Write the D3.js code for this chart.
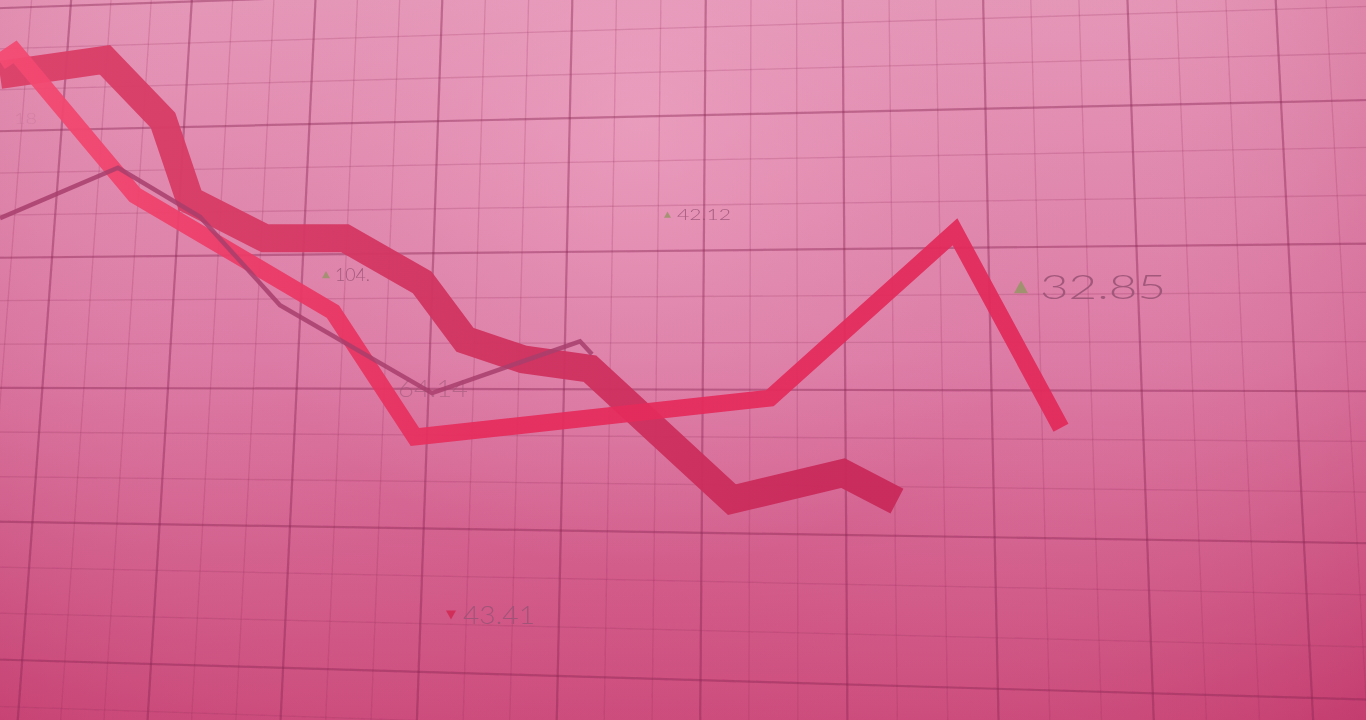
<!DOCTYPE html>
<html>
<head>
<meta charset="utf-8">
<script src="https://cdn.jsdelivr.net/npm/d3@7"></script>
<style>
html,body{margin:0;padding:0;background:#d87aa2;overflow:hidden;}
svg{display:block;}
</style>
</head>
<body>
<svg id="chart" width="1366" height="720"></svg>
<script>
// ---------- data ----------
// series A: thick ribbon
const timeA  = [0, 10.5, 16.3, 19.0, 26.5, 34.5, 42.2, 46.5, 52.3, 59.0, 73.2, 84.3, 89.7];
const valueA = [89.6, 91.7, 83.3, 72.2, 66.9, 66.9, 60.8, 52.8, 50.1, 48.8, 30.6, 34.3, 30.4];
// series B: bright ribbon
const timeB  = [0, 1.5, 13.5, 33.3, 41.5, 77.0, 95.5, 106.1];
const valueB = [91.4, 92.8, 72.9, 56.7, 39.3, 44.7, 67.8, 40.6];
// series C: thin line
const timeC  = [0, 11.8, 20.0, 28.0, 43.2, 58.0, 59.2];
const valueC = [69.7, 76.7, 69.9, 57.6, 45.4, 52.6, 50.8];
// floating value labels
const labelText  = ["42.12", "104.", "64.14", "43.41", "32.85", "18"];
const labelTime  = [66.4, 32.2, 39.8, 44.6, 101.4, 1.4];
const labelValue = [69.4, 61.0, 44.9, 13.3, 58.5, 82.8];
const labelDir   = ["up", "up", "none", "down", "up", "none"];

// ---------- styles (not data) ----------
const labelStyle = [
  {size:16, width:54, tri:7,  gap:6,  op:0.85},
  {size:17, width:35, tri:8,  gap:5,  op:0.85},
  {size:24, width:70, tri:0,  gap:0,  op:0.55},
  {size:26, width:72, tri:10, gap:7,  op:0.9},
  {size:33, width:126,tri:14, gap:12, op:0.9},
  {size:16, width:23, tri:0,  gap:0,  op:0.2}
];

const W = 1366, H = 720;
const svg = d3.select("#chart");
const defs = svg.append("defs");

// background gradients
const lg = defs.append("linearGradient").attr("id","bgv").attr("x1",0).attr("y1",0).attr("x2",0).attr("y2",1);
lg.append("stop").attr("offset","0%").attr("stop-color","#e597b8");
lg.append("stop").attr("offset","50%").attr("stop-color","#dc7ba5");
lg.append("stop").attr("offset","100%").attr("stop-color","#cb4677");
const rg = defs.append("radialGradient").attr("id","bgr")
  .attr("gradientUnits","userSpaceOnUse").attr("cx",640).attr("cy",120).attr("r",1000);
rg.append("stop").attr("offset","0%").attr("stop-color","#f0a8c6").attr("stop-opacity",0.55);
rg.append("stop").attr("offset","45%").attr("stop-color","#e090b2").attr("stop-opacity",0.0);
rg.append("stop").attr("offset","100%").attr("stop-color","#b8285c").attr("stop-opacity",0.55);

const blur = defs.append("filter").attr("id","soft").attr("x","-5%").attr("y","-5%").attr("width","110%").attr("height","110%");
blur.append("feGaussianBlur").attr("stdDeviation",0.7);

svg.append("rect").attr("width",W).attr("height",H).attr("fill","url(#bgv)");
svg.append("rect").attr("width",W).attr("height",H).attr("fill","url(#bgr)");

// ---------- perspective grid via homography ----------
function homography(src, dst){
  const A = [], b = [];
  for (let i=0;i<4;i++){
    const [u,v] = src[i], [x,y] = dst[i];
    A.push([u,v,1,0,0,0,-u*x,-v*x]); b.push(x);
    A.push([0,0,0,u,v,1,-u*y,-v*y]); b.push(y);
  }
  const n = 8;
  for (let c=0;c<n;c++){
    let p=c; for(let r=c+1;r<n;r++) if(Math.abs(A[r][c])>Math.abs(A[p][c])) p=r;
    [A[c],A[p]]=[A[p],A[c]]; [b[c],b[p]]=[b[p],b[c]];
    for(let r=0;r<n;r++){ if(r===c) continue; const f=A[r][c]/A[c][c];
      for(let k=c;k<n;k++) A[r][k]-=f*A[c][k]; b[r]-=f*b[c]; }
  }
  const h = b.map((bv,i)=>bv/A[i][i]);
  return (u,v)=>{ const w=h[6]*u+h[7]*v+1; return [(h[0]*u+h[1]*v+h[2])/w,(h[3]*u+h[4]*v+h[5])/w]; };
}
const proj = homography([[1,1],[9,1],[1,5],[9,5]], [[184,127],[1281,102],[151,664],[1312,698]]);

const gridG = svg.append("g").attr("filter","url(#soft)");
const sub = 3;
const gridLines = [];
for (let k=-2*sub; k<=12*sub; k++){
  const u = k/sub;
  gridLines.push({a:proj(u,-2), b:proj(u,8), major:k%sub===0});
}
for (let k=-2*sub; k<=8*sub; k++){
  const v = k/sub;
  gridLines.push({a:proj(-2,v), b:proj(12,v), major:k%sub===0});
}
gridG.selectAll("line").data(gridLines).join("line")
  .attr("x1",d=>d.a[0]).attr("y1",d=>d.a[1]).attr("x2",d=>d.b[0]).attr("y2",d=>d.b[1])
  .attr("stroke", d=>d.major ? "rgba(135,35,80,0.42)" : "rgba(145,45,90,0.22)")
  .attr("stroke-width", d=>d.major ? 2.2 : 1.3);

// ---------- scales ----------
const x = d3.scaleLinear().domain([0,136.6]).range([0,W]);
const y = d3.scaleLinear().domain([0,100]).range([H,0]);
const line = d3.line().x(d=>x(d[0])).y(d=>y(d[1]));

// ---------- labels ----------
const labels = labelText.map((t,i)=>({t, tx:labelTime[i], v:labelValue[i], dir:labelDir[i], s:labelStyle[i]}));
const lG = svg.append("g").selectAll("g").data(labels).join("g")
  .attr("transform", d=>`translate(${x(d.tx)},${y(d.v)})`)
  .attr("opacity", d=>d.s.op);
lG.filter(d=>d.dir!=="none").append("path")
  .attr("d", d=>{
    const w=d.s.tri, h=w*0.9, yc=-d.s.size*0.36;
    return d.dir==="up"
      ? `M0,${yc+h/2}L${w},${yc+h/2}L${w/2},${yc-h/2}Z`
      : `M0,${yc-h/2}L${w},${yc-h/2}L${w/2},${yc+h/2}Z`;
  })
  .attr("fill", d=>d.dir==="up" ? "#9a9468" : "#d22a55");
lG.append("text")
  .attr("x", d=>d.s.tri + d.s.gap)
  .attr("y", 0)
  .attr("font-family","Lato, 'DejaVu Sans', sans-serif")
  .attr("font-weight",300)
  .attr("font-size", d=>d.s.size)
  .attr("textLength", d=>d.s.width)
  .attr("lengthAdjust","spacingAndGlyphs")
  .attr("fill","#9c5476")
  .text(d=>d.t);

// ---------- series ----------
const gradB = defs.append("linearGradient").attr("id","gb").attr("gradientUnits","userSpaceOnUse")
  .attr("x1",0).attr("y1",0).attr("x2",W).attr("y2",0);
gradB.append("stop").attr("offset","0%").attr("stop-color","#f44a72");
gradB.append("stop").attr("offset","35%").attr("stop-color","#e52c5c");
gradB.append("stop").attr("offset","100%").attr("stop-color","#e0285a");

const gradA = defs.append("linearGradient").attr("id","ga").attr("gradientUnits","userSpaceOnUse")
  .attr("x1",0).attr("y1",0).attr("x2",W).attr("y2",0);
gradA.append("stop").attr("offset","0%").attr("stop-color","#dc4068");
gradA.append("stop").attr("offset","60%").attr("stop-color","#c92a5a");
gradA.append("stop").attr("offset","100%").attr("stop-color","#c6265a");

const dataA = timeA.map((t,i)=>[t,valueA[i]]);
const dataB = timeB.map((t,i)=>[t,valueB[i]]);
const dataC = timeC.map((t,i)=>[t,valueC[i]]);

svg.append("path").datum(dataA).attr("d",line)
  .attr("fill","none").attr("stroke","url(#ga)").attr("stroke-width",28)
  .attr("stroke-linejoin","miter").attr("stroke-miterlimit",3).attr("stroke-linecap","butt")
  .attr("opacity",0.95);
svg.append("path").datum(dataB).attr("d",line)
  .attr("fill","none").attr("stroke","url(#gb)").attr("stroke-width",17)
  .attr("stroke-linejoin","miter").attr("stroke-miterlimit",4).attr("stroke-linecap","butt")
  .attr("opacity",0.93);
svg.append("path").datum(dataC).attr("d",line)
  .attr("fill","none").attr("stroke","#a83e6c").attr("stroke-width",4.5)
  .attr("stroke-linejoin","miter").attr("stroke-linecap","butt")
  .attr("opacity",0.85);
</script>
</body>
</html>
